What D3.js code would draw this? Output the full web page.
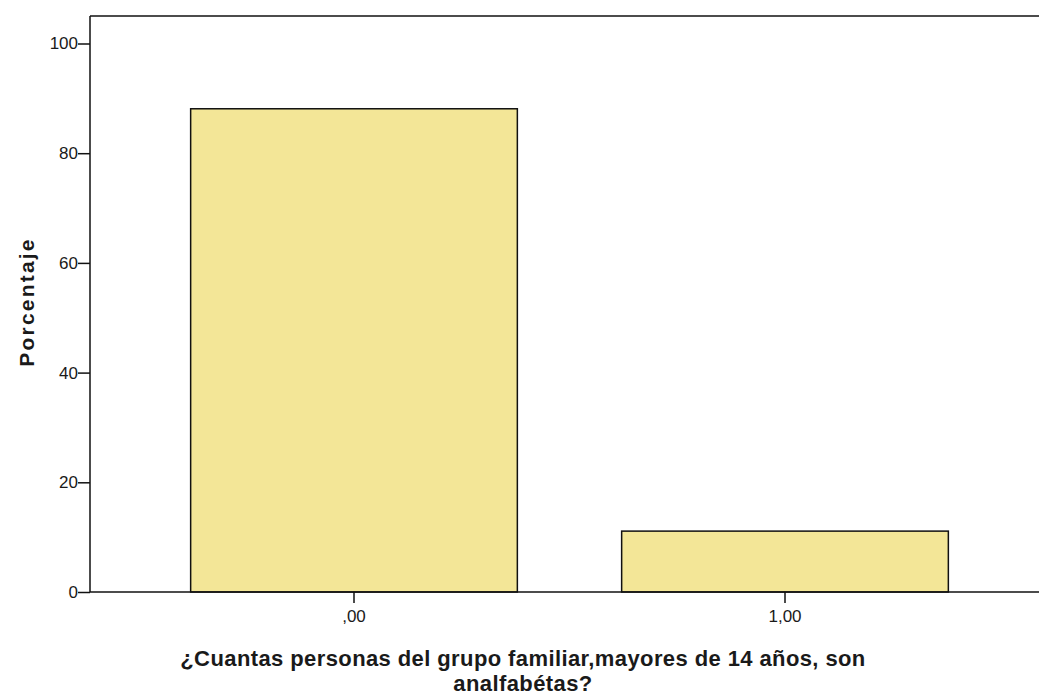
<!DOCTYPE html>
<html>
<head>
<meta charset="utf-8">
<script src="https://cdn.jsdelivr.net/npm/d3@7"></script>
<style>
  body { margin: 0; background: #fff; }
  text { font-family: "Liberation Sans", Arial, sans-serif; }
</style>
</head>
<body>
<div id="chart"></div>
<script>
const categories = [',00', '1,00'];
const percentages = [88.1, 11.1];
const yTicks = [0, 20, 40, 60, 80, 100];

const width = 1039;
const height = 696;
const margin = { left: 90, right: -8, top: 16, bottom: 104 };
const innerW = width - margin.left - margin.right;
const innerH = height - margin.top - margin.bottom;

const svg = d3.select('#chart')
  .append('svg')
  .attr('width', width)
  .attr('height', height);

const g = svg.append('g')
  .attr('transform', 'translate(' + margin.left + ',' + margin.top + ')');

// Scales
const y = d3.scaleLinear().domain([0, 100]).range([innerH, 27.5]);
const x = d3.scaleBand()
  .domain(categories)
  .range([48.5, 910.5])
  .paddingInner(0.242)
  .paddingOuter(0.121);

// Frame (top line)
g.append('line')
  .attr('x1', 0).attr('x2', innerW)
  .attr('y1', 0).attr('y2', 0)
  .attr('stroke', '#111')
  .attr('stroke-width', 1.5);

// Bars
g.selectAll('rect.bar')
  .data(percentages)
  .enter()
  .append('rect')
  .attr('class', 'bar')
  .attr('x', (d, i) => x(categories[i]))
  .attr('width', x.bandwidth())
  .attr('y', d => y(d))
  .attr('height', d => innerH - y(d))
  .attr('fill', '#f3e697')
  .attr('stroke', '#111')
  .attr('stroke-width', 1.5);

// Y axis
const yAxis = g.append('g')
  .call(d3.axisLeft(y).tickValues(yTicks).tickSize(12).tickPadding(0).tickSizeOuter(0));
yAxis.select('.domain').attr('stroke', '#111').attr('stroke-width', 1.5)
  .attr('d', 'M0,0V' + innerH);
yAxis.selectAll('.tick line').attr('stroke', '#111').attr('stroke-width', 1.5);
yAxis.selectAll('.tick text').attr('font-size', '17px').attr('fill', '#1a1a1a')
  .attr('font-family', '"Liberation Sans", Arial, sans-serif');

// X axis
const xAxis = g.append('g')
  .attr('transform', 'translate(0,' + innerH + ')')
  .call(d3.axisBottom(x).tickSize(11).tickPadding(7).tickSizeOuter(0));
xAxis.select('.domain').attr('stroke', '#111').attr('stroke-width', 1.5)
  .attr('d', 'M0,0H' + innerW);
xAxis.selectAll('.tick line').attr('stroke', '#111').attr('stroke-width', 1.5);
xAxis.selectAll('.tick text').attr('font-size', '17px').attr('fill', '#1a1a1a')
  .attr('font-family', '"Liberation Sans", Arial, sans-serif');

// Axis labels
svg.append('text')
  .attr('transform', 'rotate(-90)')
  .attr('x', -302)
  .attr('y', 34)
  .attr('text-anchor', 'middle')
  .attr('font-size', '21px')
  .attr('font-weight', 'bold')
  .attr('letter-spacing', '2.2px')
  .attr('fill', '#1a1a1a')
  .text('Porcentaje');

const xLabel = svg.append('text')
  .attr('text-anchor', 'middle')
  .attr('font-size', '22px')
  .attr('font-weight', 'bold')
  .attr('letter-spacing', '0.4px')
  .attr('fill', '#1a1a1a');
xLabel.append('tspan')
  .attr('x', 523).attr('y', 666)
  .text('¿Cuantas personas del grupo familiar,mayores de 14 años, son');
xLabel.append('tspan')
  .attr('x', 523).attr('y', 691)
  .text('analfabétas?');
</script>
</body>
</html>
